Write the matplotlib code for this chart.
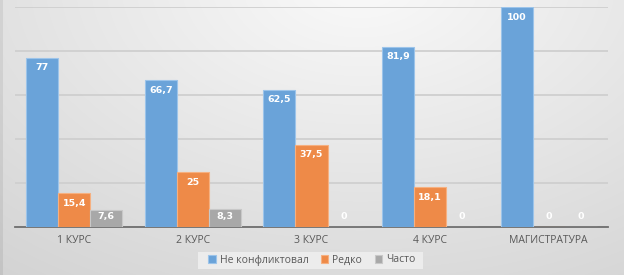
import numpy as np
import matplotlib
matplotlib.use("Agg")
import matplotlib.pyplot as plt
from matplotlib.patches import Rectangle

categories = ["1 КУРС", "2 КУРС", "3 КУРС", "4 КУРС", "МАГИСТРАТУРА"]
series_names = ["Не конфликтовал", "Редко", "Часто"]
ne_konfl = [77, 66.7, 62.5, 81.9, 100]
redko = [15.4, 25, 37.5, 18.1, 0]
chasto = [7.6, 8.3, 0, 0, 0]

colors = ["#6aa3d9", "#ee8a48", "#a8a8a8"]
edges = ["#9cc4ea", "#f6b080", "#c8c8c8"]

plt.rcParams['font.family'] = ['Open Sans', 'DejaVu Sans']

fig = plt.figure(figsize=(6.24, 2.75), dpi=100)

# background gradient for the chart area
bg = fig.add_axes([0, 0, 1, 1], zorder=-10)
yy, xx = np.mgrid[0:275, 0:624]
d = np.sqrt(((xx - 360) / 500.0) ** 2 + ((yy + 20) / 320.0) ** 2)
shade = np.clip(0.98 - 0.13 * d, 0.82, 0.98)
shade[:, :3] -= 0.06
bg.imshow(np.dstack([shade] * 3), aspect='auto', extent=[0, 1, 0, 1])
bg.set_axis_off()

# legend background box
fig.patches.append(Rectangle((198 / 624, 1 - 269 / 275), 225 / 624, 17 / 275,
                             transform=fig.transFigure, facecolor="#ececec",
                             edgecolor="none", zorder=-5))

ax = fig.add_axes([15 / 624, 1 - 227 / 275, 593 / 624, 220 / 275])
ax.patch.set_alpha(0)

x = np.arange(len(categories))
w = 0.27
data = [ne_konfl, redko, chasto]
for i, vals in enumerate(data):
    pos = x + (i - 1) * w
    ax.bar(pos, vals, width=w, color=colors[i], edgecolor=edges[i],
           linewidth=0.8, label=series_names[i], zorder=3)
    for p, v in zip(pos, vals):
        ty = max(v - 4.6, 4.6)
        ax.text(p, ty, f"{v:g}".replace(".", ","), ha='center', va='center',
                color='white', fontsize=6.8, fontweight='bold',
                family='DejaVu Sans', zorder=4)

ax.set_ylim(0, 100)
ax.set_xlim(-0.5, len(categories) - 0.5)
ax.set_yticks(np.arange(0, 101, 20))
ax.yaxis.grid(True, color="#cfcfcf", linewidth=1.3, zorder=0)
ax.tick_params(axis='y', length=0, labelleft=False)
ax.tick_params(axis='x', length=0, colors="#595959", labelsize=7.5, pad=6)
ax.set_xticks(x)
ax.set_xticklabels(categories)
for s in ["top", "right", "left"]:
    ax.spines[s].set_visible(False)
ax.spines["bottom"].set_color("#6e6e6e")
ax.spines["bottom"].set_linewidth(1.3)

leg = ax.legend(loc='center', bbox_to_anchor=(297 / 593, -33 / 220), ncol=3,
                frameon=False, fontsize=7.5, handlelength=0.7, handleheight=0.7,
                columnspacing=1.2, handletextpad=0.4)
for t in leg.get_texts():
    t.set_color("#595959")

fig.savefig("out.png", dpi=100)
